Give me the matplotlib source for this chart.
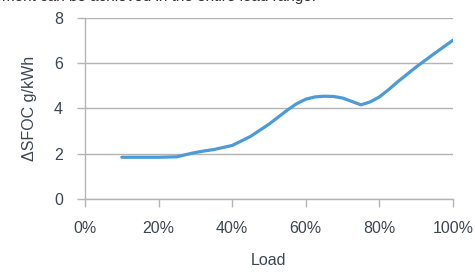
"""Delta SFOC versus engine load."""

import matplotlib

matplotlib.use("Agg")
import matplotlib.pyplot as plt
from matplotlib.ticker import PercentFormatter

LOAD = [10, 15, 20, 25, 27.5, 30, 32.5, 35, 40, 45, 50, 55, 57.5, 60, 62.5,
        65, 67.5, 70, 72.5, 75, 77.5, 80, 82.5, 85, 90, 95, 100]
DELTA_SFOC = [1.84, 1.84, 1.84, 1.86, 1.96, 2.05, 2.12, 2.18, 2.36, 2.76,
              3.3, 3.92, 4.2, 4.4, 4.5, 4.53, 4.52, 4.45, 4.3, 4.15, 4.28,
              4.5, 4.82, 5.17, 5.82, 6.42, 7.0]
X_TICKS = [0, 20, 40, 60, 80, 100]
Y_TICKS = [0, 2, 4, 6, 8]

LINE_COLOR = "#4a9bd8"
GRID_COLOR = "#b4b4b4"
TEXT_COLOR = "#3c4550"

plt.rcParams["font.family"] = ["Liberation Sans", "DejaVu Sans"]

fig = plt.figure(figsize=(4.75, 2.78), dpi=100)
ax = fig.add_axes([85 / 475, 1 - 199 / 278, 368 / 475, 181.5 / 278])

ax.plot(LOAD, DELTA_SFOC, color=LINE_COLOR, linewidth=2.3,
        solid_capstyle="round", solid_joinstyle="round")

ax.set_xlim(0, 100)
ax.set_ylim(0, 8)
ax.set_xticks(X_TICKS)
ax.set_yticks(Y_TICKS)
ax.xaxis.set_major_formatter(PercentFormatter(xmax=100, decimals=0))

ax.grid(axis="y", color=GRID_COLOR, linewidth=1.0)
ax.set_axisbelow(True)
for side in ("top", "right"):
    ax.spines[side].set_visible(False)
for side in ("left", "bottom"):
    ax.spines[side].set_color(GRID_COLOR)
    ax.spines[side].set_linewidth(1.0)

ax.tick_params(axis="x", length=5.8, width=1.0, color=GRID_COLOR, pad=10,
               labelsize=11.5, labelcolor=TEXT_COLOR)
ax.tick_params(axis="y", length=5.8, width=1.0, color=GRID_COLOR, pad=10,
               labelsize=11.5, labelcolor=TEXT_COLOR)

ax.set_xlabel("Load", fontsize=11.5, color=TEXT_COLOR, labelpad=12)
ax.set_ylabel("ΔSFOC g/kWh", fontsize=11.5, color=TEXT_COLOR, labelpad=12)

# Clipped caption line from the page the chart was cut from.
fig.text(316 / 475, 1.0 - 0.5 / 278,
         "improvement can be achieved in the entire load range.",
         fontsize=11, color="#333333", ha="right", va="baseline")

fig.savefig("out.png", dpi=100)
